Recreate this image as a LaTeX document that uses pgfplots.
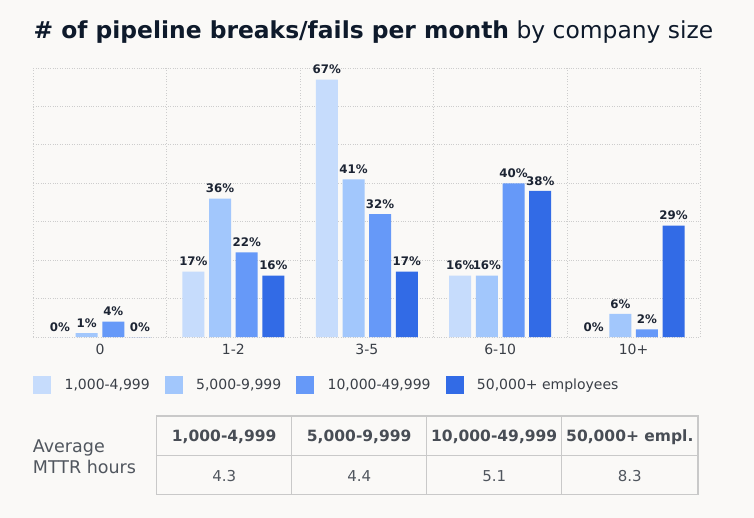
\documentclass[border=0pt]{standalone}
\usepackage{pgfplots}
\pgfplotsset{compat=1.18}
\usepackage{fontspec}
\setmainfont{DejaVu Sans}
\definecolor{bg}{HTML}{FAF9F7}
\definecolor{cA}{HTML}{C6DCFC}
\definecolor{cB}{HTML}{A2C7FC}
\definecolor{cC}{HTML}{6699F8}
\definecolor{cD}{HTML}{326BE6}
\definecolor{gridc}{HTML}{CDCDCD}
\definecolor{lab}{HTML}{1C2433}
\definecolor{titlec}{HTML}{0E1A2B}
\definecolor{txt}{HTML}{3A3F47}
\definecolor{tgray}{HTML}{50565E}
\definecolor{thead}{HTML}{484D55}
\definecolor{tline}{HTML}{C9C9C9}
\begin{document}
\begin{tikzpicture}[x=1pt,y=1pt]
\fill[bg] (0,0) rectangle (754,-518);
\node[anchor=base west, inner sep=0, text=titlec] at (33.3,-38.3)
  {\fontsize{23.4}{27}\selectfont\bfseries \# of pipeline breaks/fails per month\mdseries\ by company size};
\begin{axis}[
  at={(33.3pt,-337pt)}, anchor=south west,
  scale only axis, width=667pt, height=269pt,
  xmin=-0.5, xmax=4.5, ymin=0, ymax=70,
  /pgf/number format/assume math mode=true,
  axis line style={draw=none},
  xtick={0,1,2,3,4}, xticklabels={0,1-2,3-5,6-10,10+},
  minor xtick={-0.5,0.5,1.5,2.5,3.5,4.5},
  xminorgrids, ymajorgrids,
  ytick={0,10,...,70}, yticklabels={},
  grid style={gridc, dotted, line width=0.8pt},
  minor grid style={gridc, dotted, line width=0.8pt},
  major tick length=0pt, minor tick length=0pt,
  xticklabel style={font=\fontsize{14}{16}\selectfont, text=txt, yshift=-4pt},
  ybar, bar width=22pt,
  nodes near coords={\pgfmathprintnumber{\pgfplotspointmeta}\%},
  nodes near coords style={font=\bfseries\fontsize{11.8}{13}\selectfont, text=lab, anchor=south, inner sep=0pt, yshift=5.5pt},
  legend columns=4,
  legend cell align=left,
  legend style={at={(axis description cs:0,-0.1785)}, anchor=west, draw=none, fill=none, inner sep=0pt, outer sep=0pt,
    font=\fontsize{14}{16}\selectfont, text=txt,
    nodes={inner sep=0pt},
    /tikz/every odd column/.append style={column sep=13.3pt},
    /tikz/every even column/.append style={column sep=15pt}},
  legend image code/.code={\fill[#1] (0pt,-9pt) rectangle (18pt,9pt);},
]
\addplot[fill=cA, draw=none, bar shift=-40pt] coordinates {(0,0) (1,17) (2,67) (3,16) (4,0)};
\addplot[fill=cB, draw=none, bar shift=-13.3pt] coordinates {(0,1) (1,36) (2,41) (3,16) (4,6)};
\addplot[fill=cC, draw=none, bar shift=13.3pt] coordinates {(0,4) (1,22) (2,32) (3,40) (4,2)};
\addplot[fill=cD, draw=none, bar shift=40pt] coordinates {(0,0) (1,16) (2,17) (3,38) (4,29)};
\legend{{1,000-4,999}, {5,000-9,999}, {10,000-49,999}, {50,000+ employees}}
\end{axis}
% MTTR table
\node[anchor=base west, inner sep=0, text=tgray, font=\fontsize{17.5}{20.7}\selectfont] at (32.7,-452.7) {Average};
\node[anchor=base west, inner sep=0, text=tgray, font=\fontsize{17.5}{20.7}\selectfont] at (32.7,-473.3) {MTTR hours};
\draw[tline, line width=1.2pt] (156.7,-416) rectangle (698,-494.3);
\draw[tline, line width=1pt] (156.7,-455.7) -- (698,-455.7);
\foreach \xx in {291.7,426.7,561.7} \draw[tline, line width=1pt] (\xx,-416) -- (\xx,-494.3);
\foreach \xx/\tt in {224.2/{1,000-4,999},359.2/{5,000-9,999},494.2/{10,000-49,999},629.8/{50,000+ empl.}}
  \node[anchor=base, inner sep=0, text=thead, font=\bfseries\fontsize{15.5}{18}\selectfont] at (\xx,-441) {\tt};
\foreach \xx/\tt in {224.2/4.3,359.2/4.4,494.2/5.1,629.8/8.3}
  \node[anchor=base, inner sep=0, text=tgray, font=\fontsize{15}{18}\selectfont] at (\xx,-481) {\tt};
\end{tikzpicture}
\end{document}
